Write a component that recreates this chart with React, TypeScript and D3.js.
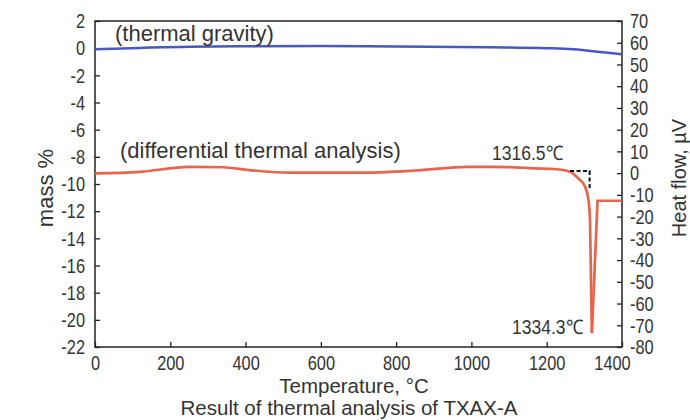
import * as d3 from "d3";
import React, { useEffect, useRef } from "react";

// thermal gravity (left axis, mass %)
const tgTemp = [0, 120, 250, 400, 600, 800, 1050, 1200, 1270, 1350, 1400];
const tgMass = [-0.08, 0.02, 0.11, 0.14, 0.16, 0.12, 0.07, 0.0, -0.08, -0.3, -0.45];

// differential thermal analysis (right axis, heat flow µV)
const dtaTemp = [0, 120, 250, 340, 410, 520, 700, 850, 990, 1100, 1165, 1220, 1262, 1283, 1302, 1311, 1315, 1320, 1335, 1400];
const dtaHeat = [-0.1, 0.6, 2.9, 2.7, 1.4, 0.2, 0.2, 1.2, 2.9, 2.8, 2.2, 1.9, 0.6, -2.3, -6.3, -12.4, -21.6, -73.6, -12.7, -12.7];

// onset construction (dashed)
const onsetTemp = [1262, 1314, 1314];
const onsetHeat = [1.0, 1.0, -7.8];

const xTicks = [0, 200, 400, 600, 800, 1000, 1200, 1400];
const leftTicks = d3.range(-22, 3, 2);
const rightTicks = d3.range(-80, 71, 10);

const width = 690;
const height = 420;
const margin = { top: 21, right: 68, bottom: 73, left: 95 };

const FONT = "'Liberation Sans', Arial, sans-serif";
const TEXT = "#333";
const BLUE = "#4659c2";
const RED = "#e8644c";

export default function App() {
  const svgRef = useRef<SVGSVGElement>(null);

  useEffect(() => {
    const svg = d3.select(svgRef.current);
    svg.selectAll("*").remove();

    const x = d3.scaleLinear().domain([0, 1400]).range([margin.left, width - margin.right]);
    const yL = d3.scaleLinear().domain([-22, 2]).range([height - margin.bottom, margin.top]);
    const yR = d3.scaleLinear().domain([-80, 70]).range([height - margin.bottom, margin.top]);

    const fmt = (d: any) => String(d);

    // axes
    const xAxisG = svg
      .append("g")
      .attr("transform", `translate(0, ${height - margin.bottom})`)
      .call(d3.axisBottom(x).tickValues(xTicks).tickFormat(fmt).tickSize(-5).tickPadding(8));
    xAxisG.selectAll("text").filter((d: any) => d === 1400).attr("dx", -10);

    const yLG = svg
      .append("g")
      .attr("transform", `translate(${margin.left}, 0)`)
      .call(d3.axisLeft(yL).tickValues(leftTicks).tickFormat(fmt).tickSize(-5).tickPadding(10));

    const yRG = svg
      .append("g")
      .attr("transform", `translate(${width - margin.right}, 0)`)
      .call(d3.axisRight(yR).tickValues(rightTicks).tickFormat(fmt).tickSize(-5).tickPadding(8));

    [xAxisG, yLG, yRG].forEach((g) => {
      g.attr("font-family", FONT).attr("font-size", 21);
      g.select(".domain").remove();
      g.selectAll("line").attr("stroke", "#222").attr("stroke-width", 1.3);
      g.selectAll("text").attr("fill", TEXT).classed("narrow", true);
    });

    // frame
    svg
      .append("rect")
      .attr("x", margin.left)
      .attr("y", margin.top)
      .attr("width", width - margin.left - margin.right)
      .attr("height", height - margin.top - margin.bottom)
      .attr("fill", "none")
      .attr("stroke", "#222")
      .attr("stroke-width", 1.5);

    // thermal gravity line
    const tgLine = d3
      .line<number>()
      .x((d, i) => x(tgTemp[i]))
      .y((d) => yL(d))
      .curve(d3.curveMonotoneX);
    svg
      .append("path")
      .attr("d", tgLine(tgMass))
      .attr("fill", "none")
      .attr("stroke", BLUE)
      .attr("stroke-width", 2.5);

    // DTA: smooth up to the minimum, straight after
    const minIdx = d3.minIndex(dtaHeat);
    const pts = dtaTemp.map((t, i) => [x(t), yR(dtaHeat[i])] as [number, number]);
    const smooth = d3.line().curve(d3.curveMonotoneX);
    const straight = d3.line();
    svg
      .append("path")
      .attr("d", smooth(pts.slice(0, minIdx + 1)))
      .attr("fill", "none")
      .attr("stroke", RED)
      .attr("stroke-width", 2.7);
    svg
      .append("path")
      .attr("d", straight(pts.slice(minIdx)))
      .attr("fill", "none")
      .attr("stroke", RED)
      .attr("stroke-width", 2.7)
      .attr("stroke-linejoin", "miter");

    // onset dashed corner
    const onsetPts = onsetTemp.map((t, i) => [x(t), yR(onsetHeat[i])] as [number, number]);
    svg
      .append("path")
      .attr("d", straight(onsetPts))
      .attr("fill", "none")
      .attr("stroke", "#111")
      .attr("stroke-width", 2)
      .attr("stroke-dasharray", "4,2.5");

    // annotations
    const label = (tx: string, px: number, py: number, size: number) =>
      svg
        .append("text")
        .attr("x", px)
        .attr("y", py)
        .attr("font-family", FONT)
        .attr("font-size", size)
        .attr("fill", TEXT)
        .text(tx);

    label("(thermal gravity)", 115, 41, 22);
    label("(differential thermal analysis)", 120, 158, 22);
    label("1316.5℃", 492, 160, 20).attr("textLength", 71).attr("lengthAdjust", "spacingAndGlyphs");
    label("1334.3℃", 512, 334, 20).attr("textLength", 71).attr("lengthAdjust", "spacingAndGlyphs");

    // axis titles
    label("Temperature, °C", 354, 393, 20.5).attr("text-anchor", "middle");
    label("Result of thermal analysis of TXAX-A", 349, 415, 20.5).attr("text-anchor", "middle");
    label("mass %", 0, 0, 22)
      .attr("text-anchor", "middle")
      .attr("transform", "translate(53, 188) rotate(-90)");
    label("Heat flow, µV", 0, 0, 20)
      .attr("text-anchor", "middle")
      .attr("transform", "translate(686, 178) rotate(-90)");

    // condensed tick digits
    svg.selectAll<SVGTextElement, unknown>("text.narrow").each(function () {
      const w = this.getComputedTextLength();
      d3.select(this).attr("textLength", w * 0.78).attr("lengthAdjust", "spacingAndGlyphs");
    });
  }, []);

  return (
    <svg
      ref={svgRef}
      width={width}
      height={height}
      style={{ position: "absolute", left: 0, top: 0, background: "#fff" }}
    ></svg>
  );
}
